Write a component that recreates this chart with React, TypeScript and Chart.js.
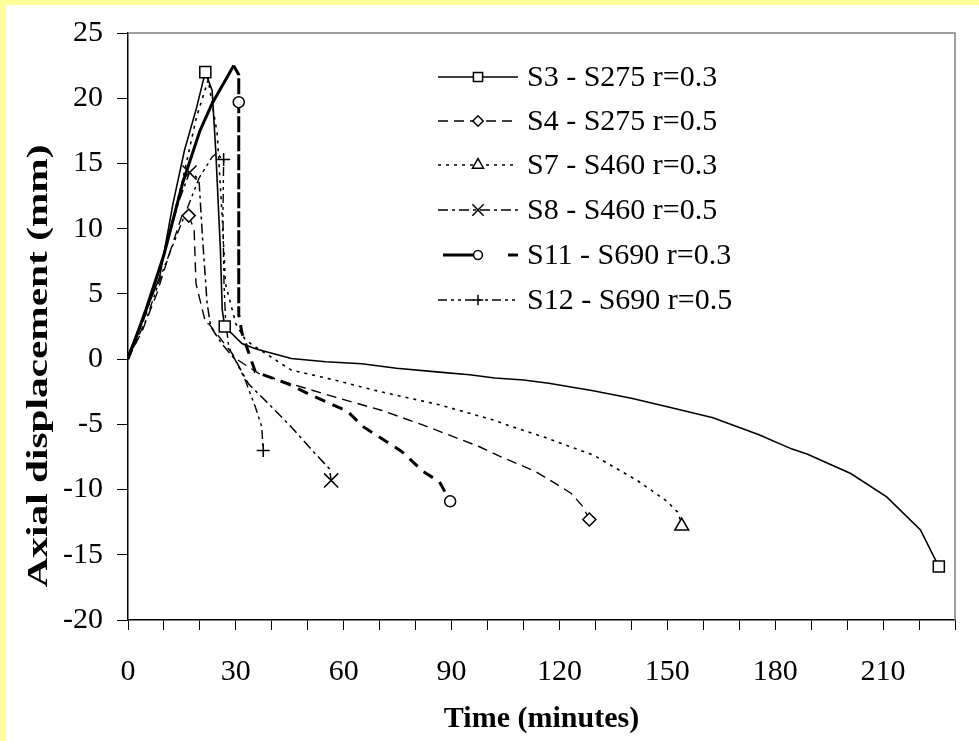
import React, { useEffect, useRef } from 'react';
import { Chart, registerables } from 'chart.js';

Chart.register(...registerables);

// ---------- data (time in minutes, axial displacement in mm) ----------
const seriesNames = [
  'S3 - S275 r=0.3',
  'S4 - S275 r=0.5',
  'S7 - S460 r=0.3',
  'S8 - S460 r=0.5',
  'S11 - S690 r=0.3',
  'S12 - S690 r=0.5',
];

const xTitle = 'Time (minutes)';
const yTitle = 'Axial displacement (mm)';

const s3Time = [0, 3.3, 8.8, 12.5, 15.7, 19, 21.5, 23.4, 24.4, 25.7, 26.2, 26.9, 31.7, 35.4, 45.4, 55, 65, 74.7, 86.6, 95, 102, 110, 117, 129, 140, 150, 162.7, 175.5, 184.7, 189, 201, 211, 220.4, 225.5];
const s3Disp = [0.3, 2.5, 6.3, 11.9, 16, 19.2, 22, 20.6, 16, 8.4, 3.8, 2.5, 1.2, 0.8, 0.05, -0.2, -0.35, -0.7, -1.0, -1.2, -1.45, -1.6, -1.85, -2.4, -3.0, -3.65, -4.5, -5.8, -6.9, -7.3, -8.77, -10.56, -13.1, -15.9];
const s3Marks = [6, 11, 33];

const s4Time = [0, 4, 8, 12, 15, 16.9, 18.4, 18.9, 21.6, 22.5, 28.9, 29.9, 36.3, 45.4, 57.4, 70.2, 82.1, 97.6, 103, 113.2, 118.7, 123.3, 126.5, 128.3];
const s4Disp = [0, 2.2, 5, 8.5, 11, 11, 9.9, 5.8, 2.75, 2.7, 0.45, 0.05, -1.1, -1.9, -2.9, -3.9, -5.06, -6.7, -7.4, -8.6, -9.5, -10.3, -11.3, -12.3];
const s4Marks = [5, 23];

const s7Time = [0, 5, 10, 15, 19, 22.3, 24.8, 26.2, 27.1, 30, 32.6, 35.4, 45.4, 57.4, 70.2, 86.6, 102, 107, 116, 129.7, 141.6, 149.9, 153.1, 154];
const s7Disp = [0, 3.5, 8, 13.5, 18.5, 21.4, 17.3, 10.9, 5.8, 2.7, 1.5, 0.94, -0.84, -1.6, -2.5, -3.5, -4.7, -5.2, -6.0, -7.4, -9.3, -10.9, -11.8, -12.8];
const s7Marks = [23];

const s8Time = [0, 5, 10, 14, 17.1, 18.9, 19.8, 20.7, 22, 23, 26, 29.9, 33.5, 39, 45.4, 51.9, 56, 56.5];
const s8Disp = [0, 3.5, 8, 12, 14.3, 14.0, 13.5, 9.4, 4.3, 2.5, 1.2, -0.08, -1.9, -3.4, -5.2, -7.2, -8.4, -9.3];
const s8Marks = [4, 17];

const s11Time = [0, 5, 10, 15.2, 20, 23.4, 29.4, 30.8, 30.8, 30.8, 31.7, 35.4, 45.4, 50.9, 61, 65.5, 75.7, 76.6, 82, 86.6, 89.6];
const s11Disp = [0, 3.8, 8, 13.5, 17.5, 19.6, 22.5, 21.8, 19.7, 3.4, 2.0, -0.97, -2.0, -2.76, -4.0, -5.2, -7.0, -7.2, -8.6, -9.4, -10.9];
const s11Marks = [8, 20];
const s11DashFrom = 6;

const s12Time = [0, 5, 10, 15, 19.8, 23.4, 24.8, 26.2, 26.6, 26.4, 26.7, 27.1, 28, 32.6, 35.4, 37.2, 37.6];
const s12Disp = [0, 3, 7, 10.5, 13.9, 15.5, 15.8, 15.3, 15.3, 10.9, 5.8, 3.2, 0.94, -1.6, -3.66, -5.2, -7.0];
const s12Marks = [8, 16];

const xTickLabels = [0, 30, 60, 90, 120, 150, 180, 210];
const yTickLabels = [-20, -15, -10, -5, 0, 5, 10, 15, 20, 25];

// ---------- styles ----------
const FONT = "'Liberation Serif', 'Times New Roman', serif";

type Style = {
  dash: number[];
  width: number;
  point: string;
  radius: number;
};

const styles: Style[] = [
  { dash: [], width: 1.6, point: 'rect', radius: 7.8 },
  { dash: [10, 6], width: 1.4, point: 'rectRot', radius: 6.5 },
  { dash: [3, 5], width: 1.6, point: 'triangle', radius: 8 },
  { dash: [10, 4, 3, 4], width: 1.5, point: 'crossRot', radius: 10 },
  { dash: [], width: 3, point: 'circle', radius: 5.5 },
  { dash: [9, 4, 3, 4, 3, 4], width: 1.4, point: 'cross', radius: 6.5 },
];

function pts(t: number[], v: number[]) {
  return t.map((x, i) => ({ x, y: v[i] }));
}

function drawMarker(ctx: CanvasRenderingContext2D, style: string, x: number, y: number, r: number) {
  ctx.save();
  ctx.setLineDash([]);
  ctx.lineWidth = 1.5;
  ctx.strokeStyle = '#000';
  ctx.fillStyle = '#fff';
  ctx.beginPath();
  if (style === 'rect') {
    const s = r * Math.SQRT1_2;
    ctx.rect(x - s, y - s, 2 * s, 2 * s);
    ctx.fill();
    ctx.stroke();
  } else if (style === 'rectRot') {
    ctx.moveTo(x - r, y);
    ctx.lineTo(x, y - r);
    ctx.lineTo(x + r, y);
    ctx.lineTo(x, y + r);
    ctx.closePath();
    ctx.fill();
    ctx.stroke();
  } else if (style === 'triangle') {
    for (let k = 0; k < 3; k++) {
      const a = -Math.PI / 2 + (k * 2 * Math.PI) / 3;
      const px = x + r * Math.cos(a);
      const py = y + r * Math.sin(a);
      if (k === 0) ctx.moveTo(px, py);
      else ctx.lineTo(px, py);
    }
    ctx.closePath();
    ctx.fill();
    ctx.stroke();
  } else if (style === 'circle') {
    ctx.arc(x, y, r, 0, Math.PI * 2);
    ctx.fill();
    ctx.stroke();
  } else if (style === 'crossRot') {
    const o = r * Math.SQRT1_2;
    ctx.moveTo(x - o, y - o);
    ctx.lineTo(x + o, y + o);
    ctx.moveTo(x + o, y - o);
    ctx.lineTo(x - o, y + o);
    ctx.stroke();
  } else if (style === 'cross') {
    ctx.moveTo(x - r, y);
    ctx.lineTo(x + r, y);
    ctx.moveTo(x, y - r);
    ctx.lineTo(x, y + r);
    ctx.stroke();
  }
  ctx.restore();
}

const backgroundPlugin = {
  id: 'bg',
  beforeDraw(chart: any) {
    const ctx = chart.ctx as CanvasRenderingContext2D;
    ctx.save();
    ctx.fillStyle = '#FFFF99';
    ctx.fillRect(0, 0, chart.width, chart.height);
    ctx.fillStyle = '#FFFFFF';
    ctx.fillRect(6, 5, chart.width - 6, chart.height - 5);
    ctx.restore();
  },
  beforeDatasetsDraw(chart: any) {
    const { ctx, chartArea } = chart;
    ctx.save();
    ctx.strokeStyle = '#808080';
    ctx.lineWidth = 1.5;
    ctx.beginPath();
    ctx.moveTo(chartArea.left, chartArea.top);
    ctx.lineTo(chartArea.right, chartArea.top);
    ctx.lineTo(chartArea.right, chartArea.bottom);
    ctx.stroke();
    ctx.restore();
  },
};

// vertical axis title: the reference renders it stretched along its length
const yTitlePlugin = {
  id: 'yTitle',
  afterDraw(chart: any) {
    const ctx = chart.ctx as CanvasRenderingContext2D;
    ctx.save();
    ctx.font = `bold 30px ${FONT}`;
    const w = ctx.measureText(yTitle).width;
    const targetLen = 443;
    const cy = 366;
    ctx.translate(39, cy);
    ctx.rotate(-Math.PI / 2);
    ctx.scale(targetLen / w, 1);
    ctx.fillStyle = '#000';
    ctx.textAlign = 'center';
    ctx.textBaseline = 'middle';
    ctx.fillText(yTitle, 0, 0);
    ctx.restore();
  },
};

const legendPlugin = {
  id: 'customLegend',
  afterDraw(chart: any) {
    const ctx = chart.ctx as CanvasRenderingContext2D;
    const x0 = 438;
    const x1 = 518;
    const xm = 478;
    const rows = [77, 121, 165, 210, 255, 300];
    ctx.save();
    seriesNames.forEach((name, i) => {
      const st = styles[i];
      const y = rows[i];
      ctx.strokeStyle = '#000';
      ctx.lineWidth = st.width;
      if (i === 4) {
        ctx.setLineDash([]);
        ctx.beginPath();
        ctx.moveTo(x0 + 5, y);
        ctx.lineTo(xm, y);
        ctx.stroke();
        ctx.beginPath();
        ctx.moveTo(x1 - 10, y);
        ctx.lineTo(x1, y);
        ctx.stroke();
      } else {
        ctx.setLineDash(st.dash);
        ctx.beginPath();
        ctx.moveTo(x0, y);
        ctx.lineTo(x1, y);
        ctx.stroke();
      }
      ctx.setLineDash([]);
      drawMarker(ctx, st.point, xm, y, st.point === 'crossRot' ? 8 : st.point === 'rect' ? 6.5 : st.radius * 0.8);
      ctx.fillStyle = '#000';
      ctx.font = `30px ${FONT}`;
      ctx.textAlign = 'left';
      ctx.textBaseline = 'middle';
      ctx.fillText(name, 527, y + 1);
    });
    ctx.restore();
  },
};

export default function App() {
  const canvasRef = useRef<HTMLCanvasElement | null>(null);

  useEffect(() => {
    document.body.style.margin = '0';
    const canvas = canvasRef.current;
    if (!canvas) return;

    const allT = [s3Time, s4Time, s7Time, s8Time, s11Time, s12Time];
    const allV = [s3Disp, s4Disp, s7Disp, s8Disp, s11Disp, s12Disp];
    const allM = [s3Marks, s4Marks, s7Marks, s8Marks, s11Marks, s12Marks];

    const datasets = seriesNames.map((name, i) => {
      const st = styles[i];
      const marks = allM[i];
      const ds: any = {
        label: name,
        data: pts(allT[i], allV[i]),
        borderColor: '#000',
        borderWidth: st.width,
        borderDash: st.dash,
        backgroundColor: '#fff',
        fill: false,
        tension: 0,
        pointStyle: st.point,
        pointRadius: (c: any) => (marks.includes(c.dataIndex) ? st.radius : 0),
        pointHoverRadius: 0,
        pointBackgroundColor: '#fff',
        pointBorderColor: '#000',
        pointBorderWidth: 1.5,
      };
      if (i === 4) {
        ds.segment = {
          borderDash: (c: any) => (c.p0DataIndex >= s11DashFrom ? [11, 8] : [1, 0]),
        };
      }
      return ds;
    });

    const chart = new Chart(canvas, {
      type: 'line',
      data: { datasets },
      plugins: [backgroundPlugin, legendPlugin, yTitlePlugin],
      options: {
        responsive: false,
        devicePixelRatio: 1,
        animation: false,
        events: [],
        layout: { padding: { left: 0, top: 33, right: 15, bottom: 0 } },
        plugins: {
          legend: { display: false },
          tooltip: { enabled: false },
        },
        scales: {
          x: {
            type: 'linear',
            min: 0,
            max: 230,
            afterFit: (s: any) => {
              s.height = 121;
            },
            ticks: {
              stepSize: 10,
              autoSkip: false,
              maxRotation: 0,
              callback: (v: any) => (xTickLabels.includes(Number(v)) ? String(v) : ''),
              font: { family: FONT, size: 30 },
              color: '#000',
              padding: 24,
            },
            grid: {
              drawOnChartArea: false,
              drawTicks: true,
              tickLength: 10,
              color: '#000',
              lineWidth: 1,
            },
            border: { display: true, color: '#000', width: 1.5 },
            title: {
              display: true,
              text: xTitle,
              font: { family: FONT, size: 30, weight: 'bold' },
              color: '#000',
              padding: { top: 0, bottom: 4 },
            },
          },
          y: {
            type: 'linear',
            min: -20,
            max: 25,
            afterFit: (s: any) => {
              s.width = 128;
            },
            ticks: {
              stepSize: 5,
              autoSkip: false,
              callback: (v: any) => (yTickLabels.includes(Number(v)) ? String(v) : ''),
              font: { family: FONT, size: 30 },
              color: '#000',
              padding: 14,
            },
            grid: {
              drawOnChartArea: false,
              drawTicks: true,
              tickLength: 11,
              color: '#000',
              lineWidth: 1,
            },
            border: { display: true, color: '#000', width: 1.5 },
            title: { display: false, text: yTitle },
          },
        },
      },
    });

    return () => {
      chart.destroy();
    };
  }, []);

  return (
    <div style={{ width: 979, height: 741 }}>
      <canvas ref={canvasRef} width={979} height={741} style={{ display: 'block', width: 979, height: 741 }} />
    </div>
  );
}
